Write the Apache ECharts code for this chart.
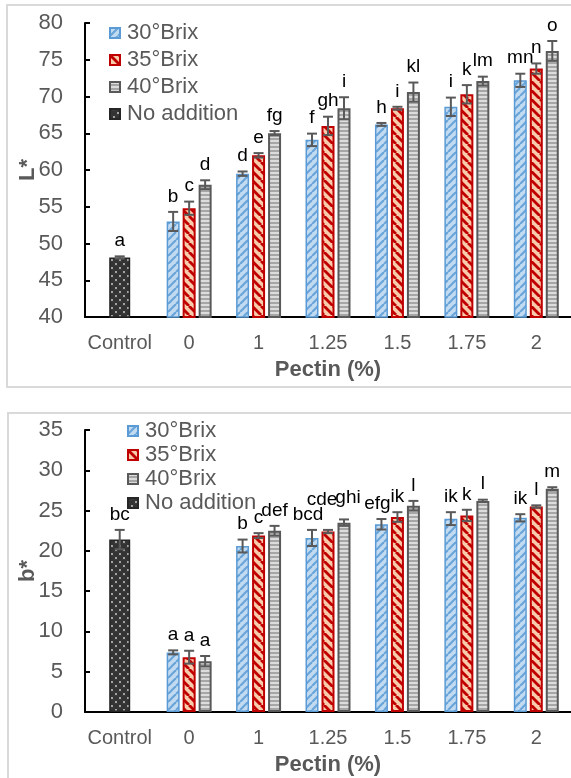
<!DOCTYPE html>
<html><head><meta charset="utf-8">
<script src="https://cdn.jsdelivr.net/npm/echarts@6/dist/echarts.min.js"></script>
<style>
html,body{margin:0;padding:0;background:#fff;}
#c1{position:absolute;left:0;top:0;width:571px;height:390px;}
#c2{position:absolute;left:0;top:390px;width:571px;height:388px;}
</style>
</head><body>
<div id="c1"></div><div id="c2"></div>
<script>
// ---------- DATA ----------
const categories = ['Control', '0', '1', '1.25', '1.5', '1.75', '2'];
const seriesNames = ['30°Brix', '35°Brix', '40°Brix', 'No addition'];

// L* panel
const L_control     = [48.1, '-', '-', '-', '-', '-', '-'];
const L_control_err = [0.15, '-', '-', '-', '-', '-', '-'];
const L_control_let = ['a', '', '', '', '', '', ''];
const L30     = ['-', 53.0, 59.5, 64.1, 66.2, 68.6, 72.2];
const L30_err = ['-', 1.3, 0.3, 0.85, 0.2, 1.25, 0.9];
const L30_let = ['', 'b', 'd', 'f', 'h', 'i', 'mn'];
const L35     = ['-', 54.8, 62.0, 66.0, 68.4, 70.3, 73.8];
const L35_err = ['-', 0.9, 0.3, 1.25, 0.2, 1.25, 0.7];
const L35_let = ['', 'c', 'e', 'gh', 'i', 'k', 'n'];
const L40     = ['-', 58.0, 65.0, 68.4, 70.6, 72.1, 76.2];
const L40_err = ['-', 0.6, 0.3, 1.5, 1.3, 0.6, 1.35];
const L40_let = ['', 'd', 'fg', 'i', 'kl', 'lm', 'o'];
const L_ticks = {min: 40, max: 80, interval: 5};

// b* panel
const B_control     = [21.4, '-', '-', '-', '-', '-', '-'];
const B_control_err = [1.2, '-', '-', '-', '-', '-', '-'];
const B_control_let = ['bc', '', '', '', '', '', ''];
const B30     = ['-', 7.4, 20.6, 21.6, 23.3, 24.0, 24.1];
const B30_err = ['-', 0.25, 0.8, 1.0, 0.65, 0.8, 0.45];
const B30_let = ['', 'a', 'b', 'bcd', 'efg', 'ik', 'ik'];
const B35     = ['-', 6.8, 21.9, 22.4, 24.2, 24.4, 25.5];
const B35_err = ['-', 0.8, 0.3, 0.2, 0.6, 0.7, 0.15];
const B35_let = ['', 'a', 'c', 'cde', 'ik', 'k', 'l'];
const B40     = ['-', 6.3, 22.5, 23.5, 25.6, 26.2, 27.7];
const B40_err = ['-', 0.65, 0.6, 0.4, 0.6, 0.15, 0.2];
const B40_let = ['', 'a', 'def', 'ghi', 'l', 'l', 'm'];
const B_ticks = {min: 0, max: 35, interval: 5};

// ---------- STYLE ----------
const FONT = '"Liberation Sans", Arial, sans-serif';
const GREY_TXT = '#595959';
const BAR_W = 13, GAP = 0.23, CTRL_W = 21;
// panel|series|category : [dx, dy] pixel nudges for letter labels
const labelNudge = { 'b|0|3': [-4, 0], 'b|1|3': [-6, -15], 'b|2|3': [4, -6], 'b|0|4': [-4, 0] };

function pattern(size, draw) {
  const c = document.createElement('canvas');
  c.width = c.height = size;
  draw(c.getContext('2d'), size);
  return { image: c, repeat: 'repeat' };
}
const patBlue = pattern(8, (g, s) => {
  g.fillStyle = '#c3dbf1'; g.fillRect(0, 0, s, s);
  g.strokeStyle = '#6aa5da'; g.lineWidth = 2.2;
  for (const o of [-s, 0, s]) { g.beginPath(); g.moveTo(o, s); g.lineTo(o + s, 0); g.stroke(); }
});
const patRed = pattern(9, (g, s) => {
  g.fillStyle = '#f8cbad'; g.fillRect(0, 0, s, s);
  g.strokeStyle = '#c00000'; g.lineWidth = 2.8;
  for (const o of [-s, 0, s]) { g.beginPath(); g.moveTo(o, 0); g.lineTo(o + s, s); g.stroke(); }
});
const patGrey = pattern(4, (g, s) => {
  g.fillStyle = '#dcdcdc'; g.fillRect(0, 0, s, s);
  g.fillStyle = '#a6a6a6'; g.fillRect(0, 2, s, 2);
});
const patDark = pattern(8, (g, s) => {
  g.fillStyle = '#a8a8a8'; g.fillRect(0, 0, s, s);
  g.fillStyle = '#333333';
  for (const [cx, cy] of [[0, 0], [8, 0], [0, 8], [8, 8], [4, 4]]) {
    g.beginPath(); g.arc(cx, cy, 3.1, 0, Math.PI * 2); g.fill();
  }
});

const barStyles = [
  { color: patBlue, borderColor: '#5b9bd5', borderWidth: 1.5 },
  { color: patRed, borderColor: '#c00000', borderWidth: 2 },
  { color: patGrey, borderColor: '#595959', borderWidth: 2 },
  { color: patDark, borderColor: '#262626', borderWidth: 1.5 }
];

function errSeries(panel, sIdx, vals, errs, lets, pos, xIdx) {
  const data = [];
  vals.forEach((v, i) => { if (v !== '-') data.push([i, v, errs[i]]); });
  return {
    type: 'custom', xAxisIndex: xIdx, silent: true, z: 10, clip: false,
    data,
    renderItem(params, api) {
      const i = api.value(0), v = api.value(1), e = api.value(2);
      const step = BAR_W * (1 + GAP);
      const x = api.coord([i, v])[0] + pos * step;
      const yt = api.coord([i, v + e])[1];
      const yb = api.coord([i, v - e])[1];
      const cap = 5;
      const ls = { stroke: '#595959', lineWidth: 2 };
      const nd = labelNudge[panel + '|' + sIdx + '|' + i] || [0, 0];
      return {
        type: 'group', children: [
          { type: 'line', shape: { x1: x, y1: yt, x2: x, y2: yb }, style: ls },
          { type: 'line', shape: { x1: x - cap, y1: yt, x2: x + cap, y2: yt }, style: ls },
          { type: 'line', shape: { x1: x - cap, y1: yb, x2: x + cap, y2: yb }, style: ls },
          { type: 'text', style: { text: lets[i], x: x + nd[0], y: yt - 6 + nd[1], align: 'center', verticalAlign: 'bottom',
              fill: '#000', fontSize: 19, fontFamily: FONT } }
        ]
      };
    }
  };
}

function buildOption(panel, yName, ticks, ctrl, ctrlErr, ctrlLet, s30, e30, l30, s35, e35, l35, s40, e40, l40,
                     gridTop, gridBottom, legendLeft, legendTop, legendLH, legendGap, frame) {
  const xBase = {
    type: 'category', data: categories,
    axisLine: { show: true, lineStyle: { color: '#000', width: 2 } },
    axisTick: { show: false },
    axisLabel: { interval: 0, color: GREY_TXT, fontSize: 20, fontFamily: FONT, margin: 16 }
  };
  return {
    animation: false,
    graphic: [{ type: 'rect', shape: frame, style: { fill: 'none', stroke: '#d9d9d9', lineWidth: 2 }, silent: true }],
    legend: {
      orient: 'vertical', left: legendLeft, top: legendTop, itemWidth: 10, itemHeight: 10, itemGap: legendGap,
      icon: 'rect', selectedMode: false, data: seriesNames,
      textStyle: { fontSize: 22, color: GREY_TXT, fontFamily: FONT, lineHeight: legendLH, padding: [0, 0, 0, 2] }
    },
    grid: { left: 85, right: 0, top: gridTop, bottom: gridBottom, containLabel: false, outerBoundsMode: 'none' },
    xAxis: [
      Object.assign({}, xBase, {
        name: 'Pectin (%)', nameLocation: 'middle', nameGap: 42,
        nameTextStyle: { fontSize: 22, fontWeight: 'bold', color: GREY_TXT, fontFamily: FONT }
      }),
      Object.assign({}, xBase, { show: false })
    ],
    yAxis: {
      type: 'value', min: ticks.min, max: ticks.max, interval: ticks.interval,
      name: yName, nameLocation: 'middle', nameGap: 46, nameMoveOverlap: false,
      nameTextStyle: { fontSize: 22, fontWeight: 'bold', color: GREY_TXT, fontFamily: FONT },
      axisLine: { show: true, lineStyle: { color: '#000', width: 2 } },
      axisTick: { show: true, inside: true, length: 5, lineStyle: { color: '#000', width: 2 } },
      splitLine: { show: false },
      axisLabel: { color: GREY_TXT, fontSize: 22, fontFamily: FONT, margin: 22 }
    },
    series: [
      { name: seriesNames[0], type: 'bar', data: s30, barWidth: BAR_W, barGap: (GAP * 100) + '%', itemStyle: barStyles[0] },
      { name: seriesNames[1], type: 'bar', data: s35, barWidth: BAR_W, barGap: (GAP * 100) + '%', itemStyle: barStyles[1] },
      { name: seriesNames[2], type: 'bar', data: s40, barWidth: BAR_W, barGap: (GAP * 100) + '%', itemStyle: barStyles[2] },
      { name: seriesNames[3], type: 'bar', xAxisIndex: 1, data: ctrl, barWidth: CTRL_W, itemStyle: barStyles[3] },
      errSeries(panel, 0, s30, e30, l30, -1, 0),
      errSeries(panel, 1, s35, e35, l35, 0, 0),
      errSeries(panel, 2, s40, e40, l40, 1, 0),
      errSeries(panel, 3, ctrl, ctrlErr, ctrlLet, 0, 1)
    ]
  };
}

const c1 = echarts.init(document.getElementById('c1'));
c1.setOption(buildOption('L', 'L*', L_ticks, L_control, L_control_err, L_control_let,
  L30, L30_err, L30_let, L35, L35_err, L35_let, L40, L40_err, L40_let,
  23, 73, 104, 16, 24, 3, { x: 7, y: 5, width: 620, height: 382 }));

const c2 = echarts.init(document.getElementById('c2'));
c2.setOption(buildOption('b', 'b*', B_ticks, B_control, B_control_err, B_control_let,
  B30, B30_err, B30_let, B35, B35_err, B35_let, B40, B40_err, B40_let,
  40, 66, 122, 24, 24, 0, { x: 8, y: 23, width: 620, height: 420 }));
</script>
</body></html>
